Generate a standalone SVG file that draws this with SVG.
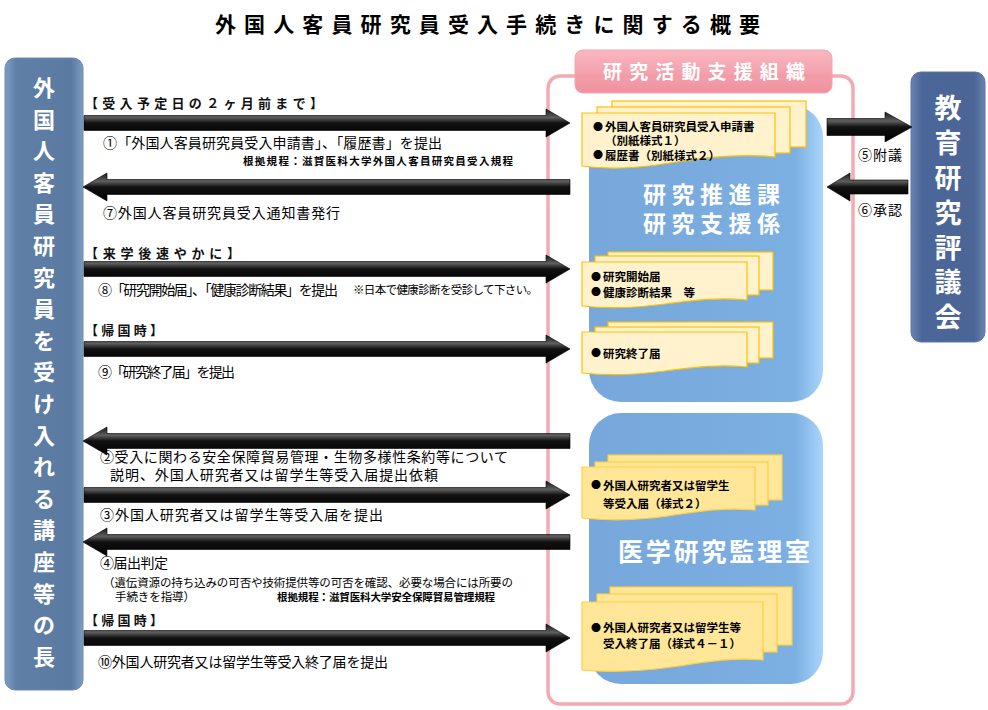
<svg xmlns="http://www.w3.org/2000/svg" width="988" height="710" viewBox="0 0 988 710">
<defs>
<linearGradient id="gArr" x1="0" y1="0" x2="0" y2="1">
<stop offset="0" stop-color="#1a1a1a"/>
<stop offset="0.3" stop-color="#5e5e5e"/>
<stop offset="0.5" stop-color="#111"/>
<stop offset="1" stop-color="#000"/>
</linearGradient>
<linearGradient id="gLeft" x1="0" y1="0" x2="1" y2="0">
<stop offset="0" stop-color="#7d9cc2"/>
<stop offset="0.15" stop-color="#5f7fa7"/>
<stop offset="0.85" stop-color="#5a7aa2"/>
<stop offset="1" stop-color="#7d9cc2"/>
</linearGradient>
<linearGradient id="gRight" x1="0" y1="0" x2="1" y2="0">
<stop offset="0" stop-color="#6a84b2"/>
<stop offset="0.15" stop-color="#4b6698"/>
<stop offset="0.85" stop-color="#4a6596"/>
<stop offset="1" stop-color="#6a84b2"/>
</linearGradient>
<linearGradient id="gBlue" x1="0" y1="0" x2="1" y2="0">
<stop offset="0" stop-color="#77a7db"/>
<stop offset="0.88" stop-color="#7cafe2"/>
<stop offset="1" stop-color="#a9d5fb"/>
</linearGradient>
<linearGradient id="gTab" x1="0" y1="0" x2="0" y2="1">
<stop offset="0" stop-color="#f9b3bc"/>
<stop offset="1" stop-color="#ef8b98"/>
</linearGradient>
<style>
.arr{fill:url(#gArr);stroke:#000;stroke-width:0.6}
.lbl{font-family:"Noto Sans CJK JP","Noto Sans",sans-serif;font-size:14px;fill:#000}
.sm{font-size:11.5px}
.ref{font-size:10.5px;font-weight:bold}
.hd{font-family:"Noto Sans CJK JP","Noto Sans",sans-serif;font-size:13px;font-weight:bold;fill:#111}
.vt{font-family:"Noto Sans CJK JP","Noto Sans",sans-serif;font-weight:bold;fill:#fff;text-anchor:middle}
.wt{font-family:"Noto Sans CJK JP","Noto Sans",sans-serif;font-weight:bold;fill:#fff}
.doc{fill:#fff2cc;stroke:#ffc000;stroke-width:1.2}
.doc2{fill:#ffe699;stroke:#ffcf3f;stroke-width:1.2}
.dt{font-family:"Noto Sans CJK JP","Noto Sans",sans-serif;font-size:11.5px;font-weight:bold;fill:#000}
.bl{font-family:"Noto Sans CJK JP","Noto Sans",sans-serif;font-size:10px;fill:#000}
</style>
</defs>
<rect width="988" height="710" fill="#fff"/>

<g id="title">
<text x="215" y="32" font-family="'Noto Sans CJK JP','Noto Sans',sans-serif" font-size="21" font-weight="bold" fill="#000" textLength="545">外国人客員研究員受入手続きに関する概要</text>
</g>

<g id="frame-org">
<rect x="548" y="76" width="305" height="628" rx="12" fill="#fff" stroke="#f4aab3" stroke-width="3.5"/>
</g>

<g id="box-suishin">
<rect x="589" y="105" width="234" height="297" rx="32" fill="url(#gBlue)"/>
<text class="wt" x="643" y="203" font-size="23" textLength="137">研究推進課</text>
<text class="wt" x="643" y="232" font-size="23" textLength="137">研究支援係</text>
</g>

<g id="box-kanri">
<rect x="589" y="413" width="234" height="271" rx="32" fill="url(#gBlue)"/>
<text class="wt" x="618" y="561" font-size="25" textLength="192">医学研究監理室</text>
</g>

<g id="tab-org">
<rect x="575" y="50" width="257" height="43" rx="8" fill="url(#gTab)" stroke="#f3a0aa" stroke-width="1" opacity="0.95"/>
<text class="wt" x="603" y="79" font-size="19" textLength="202">研究活動支援組織</text>
</g>

<g id="doc-1">
<rect class="doc" x="612" y="101" width="194" height="46"/>
<rect class="doc" x="597" y="107" width="193" height="46"/>
<path class="doc" d="M582,113 H775 V157 C740,153 700,158 670,163 C640,168 610,170 582,166 Z"/>
<text class="bl" x="593" y="131">●</text>
<text class="dt" x="605" y="131">外国人客員研究員受入申請書</text>
<text class="dt" x="605" y="145">（別紙様式１）</text>
<text class="bl" x="593" y="159">●</text>
<text class="dt" x="605" y="159.5">履歴書（別紙様式２）</text>
</g>

<g id="doc-2">
<rect class="doc" x="608" y="252" width="165" height="38"/>
<rect class="doc" x="595" y="256" width="164" height="39"/>
<path class="doc" d="M582,262 H747 V300 C715,297 690,301 665,304 C635,308 610,309 582,306 Z"/>
<text class="bl" x="591" y="281">●</text>
<text class="dt" x="603" y="281">研究開始届</text>
<text class="bl" x="591" y="296">●</text>
<text class="dt" x="603" y="296.5">健康診断結果　等</text>
</g>

<g id="doc-3">
<rect class="doc" x="608" y="322" width="165" height="36"/>
<rect class="doc" x="595" y="327" width="164" height="36"/>
<path class="doc" d="M582,332 H747 V367 C715,364 690,368 665,371 C635,375 610,376 582,373 Z"/>
<text class="bl" x="591" y="357">●</text>
<text class="dt" x="603" y="357.5">研究終了届</text>
</g>

<g id="doc-4">
<rect class="doc2" x="608" y="455" width="174" height="45"/>
<rect class="doc2" x="595" y="462" width="173" height="43"/>
<path class="doc2" d="M582,467 H755 V510 C720,507 695,512 668,516 C640,520 610,521 582,518 Z"/>
<text class="bl" x="591" y="489">●</text>
<text class="dt" x="603" y="489.5">外国人研究者又は留学生</text>
<text class="dt" x="603" y="507.5">等受入届（様式２）</text>
</g>

<g id="doc-5">
<rect class="doc2" x="610" y="587" width="182" height="58"/>
<rect class="doc2" x="597" y="594" width="180" height="58"/>
<path class="doc2" d="M582,602 H763 V660 C728,657 700,663 672,667 C642,671 612,673 582,670 Z"/>
<text class="bl" x="591" y="632">●</text>
<text class="dt" x="603" y="632">外国人研究者又は留学生等</text>
<text class="dt" x="603" y="648">受入終了届（様式４－１）</text>
</g>

<g id="box-koza">
<rect x="5" y="58" width="78" height="632" rx="10" fill="url(#gLeft)" stroke="#6d8bb0" stroke-width="1"/>
<text class="vt" font-size="22" x="44" y="96">外</text>
<text class="vt" font-size="22" x="44" y="127.6">国</text>
<text class="vt" font-size="22" x="44" y="159.2">人</text>
<text class="vt" font-size="22" x="44" y="190.8">客</text>
<text class="vt" font-size="22" x="44" y="222.4">員</text>
<text class="vt" font-size="22" x="44" y="254">研</text>
<text class="vt" font-size="22" x="44" y="285.6">究</text>
<text class="vt" font-size="22" x="44" y="317.2">員</text>
<text class="vt" font-size="22" x="44" y="348.8">を</text>
<text class="vt" font-size="22" x="44" y="380.4">受</text>
<text class="vt" font-size="22" x="44" y="412">け</text>
<text class="vt" font-size="22" x="44" y="443.6">入</text>
<text class="vt" font-size="22" x="44" y="475.2">れ</text>
<text class="vt" font-size="22" x="44" y="506.8">る</text>
<text class="vt" font-size="22" x="44" y="538.4">講</text>
<text class="vt" font-size="22" x="44" y="570">座</text>
<text class="vt" font-size="22" x="44" y="601.6">等</text>
<text class="vt" font-size="22" x="44" y="633.2">の</text>
<text class="vt" font-size="22" x="44" y="664.8">長</text>
</g>

<g id="box-hyogikai">
<rect x="911" y="72" width="74" height="270" rx="10" fill="url(#gRight)" stroke="#5c77a6" stroke-width="1"/>
<text class="vt" font-size="27" x="948" y="118">教</text>
<text class="vt" font-size="27" x="948" y="153">育</text>
<text class="vt" font-size="27" x="948" y="188">研</text>
<text class="vt" font-size="27" x="948" y="223">究</text>
<text class="vt" font-size="27" x="948" y="258">評</text>
<text class="vt" font-size="27" x="948" y="292">議</text>
<text class="vt" font-size="27" x="948" y="327">会</text>
</g>

<g id="connectors">
<polygon class="arr" points="84,115.5 546,115.5 546,109 570,123 546,137 546,130.5 84,130.5"/>
<polygon class="arr" points="83,187 107,173 107,179.5 570,179.5 570,194.5 107,194.5 107,201"/>
<polygon class="arr" points="84,261.5 546,261.5 546,255 570,269 546,283 546,276.5 84,276.5"/>
<polygon class="arr" points="84,341.5 546,341.5 546,335 570,349 546,363 546,356.5 84,356.5"/>
<polygon class="arr" points="83,441 107,427 107,433.5 570,433.5 570,448.5 107,448.5 107,455"/>
<polygon class="arr" points="84,487.5 546,487.5 546,481 570,495 546,509 546,502.5 84,502.5"/>
<polygon class="arr" points="83,542 107,528 107,534.5 570,534.5 570,549.5 107,549.5 107,556"/>
<polygon class="arr" points="84,630.5 546,630.5 546,624 570,638 546,652 546,645.5 84,645.5"/>
<polygon class="arr" points="827,118.5 885,118.5 885,112 912,127 885,142 885,135.5 827,135.5"/>
<polygon class="arr" points="827,187 850,173 850,180 908,180 908,194 850,194 850,201"/>
</g>

<g id="connector-labels">
<text class="hd" x="85" y="108" textLength="238">【受入予定日の２ヶ月前まで】</text>
<text class="lbl" x="103" y="148" textLength="339">①「外国人客員研究員受入申請書」、「履歴書」を提出</text>
<text class="lbl ref" x="243" y="164.5" textLength="270">根拠規程：滋賀医科大学外国人客員研究員受入規程</text>
<text class="lbl" x="103" y="218" textLength="237">⑦外国人客員研究員受入通知書発行</text>
<text class="hd" x="85" y="258" textLength="155">【来学後速やかに】</text>
<text class="lbl" x="98" y="295" textLength="240">⑧「研究開始届」、「健康診断結果」を提出</text>
<text class="lbl sm" x="353" y="294" textLength="185">※日本で健康診断を受診して下さい。</text>
<text class="hd" x="85" y="335" textLength="78">【帰国時】</text>
<text class="lbl" x="98" y="377" textLength="137">⑨「研究終了届」を提出</text>
<text class="lbl" x="100" y="462" textLength="408">②受入に関わる安全保障貿易管理・生物多様性条約等について</text>
<text class="lbl" x="110" y="480" textLength="328">説明、外国人研究者又は留学生等受入届提出依頼</text>
<text class="lbl" x="100" y="520" textLength="283">③外国人研究者又は留学生等受入届を提出</text>
<text class="lbl" x="100" y="568" textLength="68">④届出判定</text>
<text class="lbl sm" x="103" y="586.5" textLength="410">（遺伝資源の持ち込みの可否や技術提供等の可否を確認、必要な場合には所要の</text>
<text class="lbl sm" x="115" y="600.5" textLength="80">手続きを指導）</text>
<text class="lbl ref" x="277" y="600.5" textLength="218">根拠規程：滋賀医科大学安全保障貿易管理規程</text>
<text class="hd" x="85" y="625" textLength="78">【帰国時】</text>
<text class="lbl" x="98" y="667" textLength="290">⑩外国人研究者又は留学生等受入終了届を提出</text>
<text class="lbl" x="858" y="160" font-size="13" textLength="44">⑤附議</text>
<text class="lbl" x="858" y="215" font-size="13" textLength="44">⑥承認</text>
</g>
</svg>
